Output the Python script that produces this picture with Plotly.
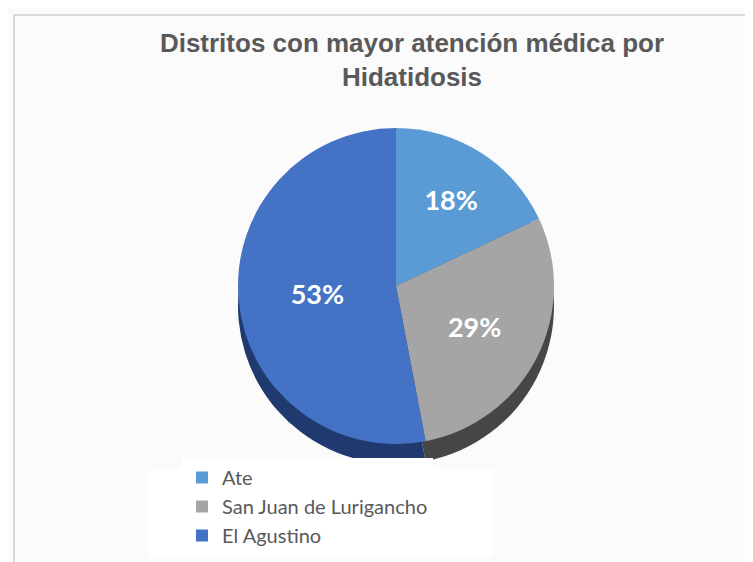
import plotly.graph_objects as go

# Data
districts = ["Ate", "San Juan de Lurigancho", "El Agustino"]
shares = [18, 29, 53]

# Styles
top_colors = ["#5B9BD5", "#A5A5A5", "#4472C4"]
side_colors = ["#2F5F8F", "#464646", "#203A70"]

W, H = 753, 562
cx, cy, r = 388, 278, 158
depth = 20


def dom(cx_, cy_, r_):
    return dict(x=[(cx_ - r_) / W, (cx_ + r_) / W],
                y=[1 - (cy_ + r_) / H, 1 - (cy_ - r_) / H])


fig = go.Figure()

# side (depth) of the 3D-looking pie
fig.add_trace(go.Pie(
    labels=districts, values=shares, sort=False, direction="clockwise",
    rotation=0, domain=dom(cx, cy + depth, r),
    marker=dict(colors=side_colors, line=dict(width=0)),
    textinfo="none", hoverinfo="skip", showlegend=False,
))

# top surface
fig.add_trace(go.Pie(
    labels=districts, values=shares, sort=False, direction="clockwise",
    rotation=0, domain=dom(cx, cy, r),
    marker=dict(colors=top_colors, line=dict(width=0)),
    texttemplate="%{percent:.0%}", textposition="inside",
    insidetextorientation="horizontal",
    textfont=dict(family="Lato, Carlito, sans-serif", size=27, color="white", weight="bold"),
    showlegend=True,
))

fig.update_layout(
    width=W, height=H,
    margin=dict(l=0, r=0, t=0, b=0),
    paper_bgcolor="#FBFBFB",
    plot_bgcolor="#FBFBFB",
    title=dict(
        text="Distritos con mayor atención médica por<br>Hidatidosis",
        font=dict(family="Liberation Sans", size=26, color="#595959", weight="bold"),
        x=404 / W, xanchor="center", y=1 - 44 / H, yanchor="top",
    ),
    legend=dict(
        x=174 / W, xanchor="left", y=1 - 450 / H, yanchor="top",
        bgcolor="white", traceorder="normal",
        font=dict(family="Lato, Carlito, sans-serif", size=20, color="#595959"),
        itemwidth=30, tracegroupgap=0,
    ),
    shapes=[
        dict(type="rect", xref="paper", yref="paper", layer="below",
             x0=140 / W, x1=485 / W, y0=1 - 549 / H, y1=1 - 461 / H,
             fillcolor="white", line=dict(width=0)),
        dict(type="rect", xref="paper", yref="paper", layer="above",
             x0=6 / W, x1=1.05, y0=-0.05, y1=1 - 7 / H,
             fillcolor="rgba(0,0,0,0)", line=dict(color="#D9D9D9", width=2)),
    ],
)

fig.write_html("out.html")
